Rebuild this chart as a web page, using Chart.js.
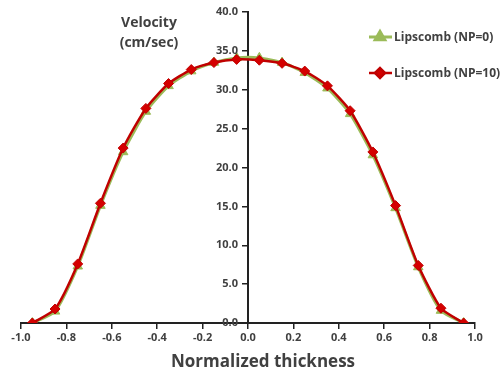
<!DOCTYPE html>
<html>
<head>
<meta charset="utf-8">
<script src="https://cdn.jsdelivr.net/npm/chart.js@4"></script>
<style>
  html, body { margin: 0; padding: 0; background: #fff; }
  #wrap { width: 501px; height: 375px; }
</style>
</head>
<body>
<div id="wrap"><canvas id="chart"></canvas></div>
<script>
const thickness = [-0.95, -0.85, -0.75, -0.65, -0.55, -0.45, -0.35, -0.25, -0.15, -0.05,
  0.05, 0.15, 0.25, 0.35, 0.45, 0.55, 0.65, 0.75, 0.85, 0.95];
const velocityNP0 = [0.0, 1.5, 7.3, 15.1, 22.0, 27.2, 30.5, 32.4, 33.5, 34.1,
  34.1, 33.5, 32.2, 30.2, 26.9, 21.6, 14.8, 7.2, 1.6, 0.0];
const velocityNP10 = [0.0, 1.8, 7.6, 15.4, 22.5, 27.6, 30.8, 32.6, 33.5, 33.9,
  33.8, 33.4, 32.4, 30.5, 27.3, 22.0, 15.1, 7.4, 1.9, 0.0];
const seriesNames = ['Lipscomb (NP=0)', 'Lipscomb (NP=10)'];
const yTitle = ['Velocity', '(cm/sec)'];
const xTitle = 'Normalized thickness';

const font = '"Open Sans", "Liberation Sans", sans-serif';
const textColor = '#404040';

function toPoints(ys) {
  return thickness.map((x, i) => ({ x: x, y: ys[i] }));
}

function fmt(v) {
  const s = Number(v).toFixed(1);
  return s === '-0.0' ? '0.0' : s;
}

// y tick labels (left of the centred axis), legend and axis titles
const extras = {
  id: 'extras',
  afterDraw(chart) {
    const ctx = chart.ctx;
    const yScale = chart.scales.y;
    const axisX = chart.scales.x.getPixelForValue(0);
    ctx.save();
    ctx.fillStyle = textColor;
    ctx.textBaseline = 'middle';

    ctx.font = 'bold 11px ' + font;
    ctx.textAlign = 'right';
    yScale.ticks.forEach(t => {
      ctx.fillText(fmt(t.value), axisX - 10, yScale.getPixelForValue(t.value));
    });

    ctx.font = 'bold 14px ' + font;
    ctx.textAlign = 'center';
    ctx.fillText(yTitle[0], 149, 23);
    ctx.fillText(yTitle[1], 149, 43);

    ctx.font = 'bold 17px ' + font;
    ctx.fillText(xTitle, 263, 362);

    ctx.textAlign = 'left';
    ctx.font = 'bold 12px ' + font;
    const rows = { [seriesNames[0]]: 37, [seriesNames[1]]: 73 };
    chart.data.datasets.forEach(ds => {
      const y = rows[ds.label];
      ctx.strokeStyle = ds.borderColor;
      ctx.lineWidth = ds.borderWidth;
      ctx.beginPath();
      ctx.moveTo(369, y);
      ctx.lineTo(392, y);
      ctx.stroke();
      ctx.fillStyle = ds.backgroundColor;
      ctx.strokeStyle = ds.borderColor;
      Chart.helpers.drawPoint(ctx, {
        pointStyle: ds.pointStyle,
        radius: ds.pointRadius,
        borderWidth: 1
      }, 380, y);
      ctx.fillStyle = textColor;
      ctx.fillText(ds.label, 394, y + 1);
    });
    ctx.restore();
  }
};

new Chart(document.getElementById('chart'), {
  type: 'line',
  data: {
    datasets: [
      {
        label: seriesNames[1],
        data: toPoints(velocityNP10),
        borderColor: '#c00000',
        backgroundColor: '#d40000',
        borderWidth: 2.5,
        pointStyle: 'rectRot',
        pointRadius: 5,
        pointBorderWidth: 1,
        tension: 0.2
      },
      {
        label: seriesNames[0],
        data: toPoints(velocityNP0),
        borderColor: '#9bbb59',
        backgroundColor: '#9bbb59',
        borderWidth: 3,
        pointStyle: 'triangle',
        pointRadius: 5.5,
        pointBorderWidth: 1,
        tension: 0.2
      }
    ]
  },
  options: {
    responsive: true,
    maintainAspectRatio: false,
    animation: false,
    layout: { padding: { left: 21, right: 26, top: 12, bottom: 52 } },
    plugins: {
      legend: { display: false },
      tooltip: { enabled: false }
    },
    scales: {
      x: {
        type: 'linear',
        min: -1,
        max: 1,
        position: { y: 0 },
        ticks: {
          stepSize: 0.2,
          color: textColor,
          font: { family: font, size: 11, weight: 'bold' },
          padding: 3,
          callback: v => fmt(v)
        },
        grid: { drawOnChartArea: false, color: '#222', tickLength: 5, lineWidth: 1.5 },
        border: { color: '#222', width: 2 }
      },
      y: {
        min: 0,
        max: 40,
        position: { x: 0 },
        ticks: {
          stepSize: 5,
          color: 'rgba(0,0,0,0)',
          font: { family: font, size: 11, weight: 'bold' },
          callback: v => fmt(v)
        },
        grid: { drawOnChartArea: false, color: '#222', tickLength: 5, lineWidth: 1.5 },
        border: { color: '#222', width: 2 }
      }
    }
  },
  plugins: [extras]
});
</script>
</body>
</html>
